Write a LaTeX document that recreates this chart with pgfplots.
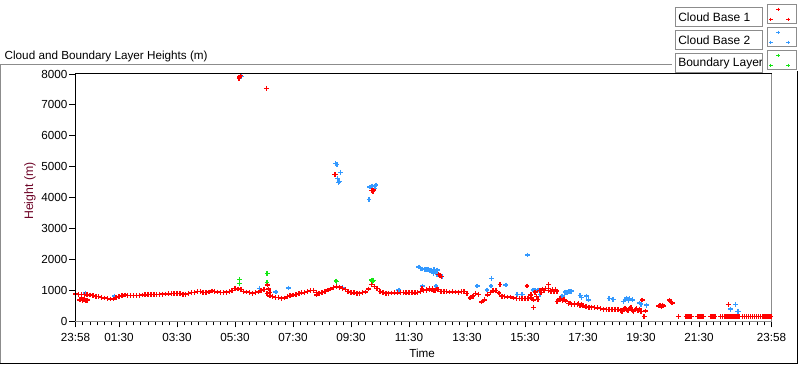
\documentclass[border=0pt]{standalone}
\usepackage{pgfplots}
\pgfplotsset{compat=1.18}
\usepackage{fontspec}
\setmainfont{Liberation Sans}
\definecolor{cbred}{RGB}{255,0,0}
\definecolor{cbblue}{RGB}{51,153,255}
\definecolor{blgreen}{RGB}{20,230,20}
\definecolor{framegray}{RGB}{140,140,140}
\definecolor{labred}{RGB}{110,5,40}
\newcommand\legbox[1]{{\setlength\fboxsep{0pt}\setlength\fboxrule{1bp}\fcolorbox{framegray}{white}{\parbox[c][18bp][c]{86bp}{\makebox[86bp][l]{\hspace*{2.5bp}\fontsize{12bp}{14bp}\selectfont #1}}}}}
\begin{document}
\fontsize{11.7bp}{14bp}\selectfont
\begin{tikzpicture}
\useasboundingbox (0,0) rectangle (800bp,365bp);
\begin{axis}[
  at={(75.5bp,43.5bp)}, anchor=south west,
  width=696bp, height=247.5bp, scale only axis,
  xmin=0, xmax=24, ymin=0, ymax=8000,
  axis line style={framegray, line width=1bp},
  tick pos=left, tick align=outside,
  major tick length=6bp, minor tick length=4bp,
  every tick/.style={black, line width=0.9bp},
  xtick={0,1.5,3.5,5.5,7.5,9.5,11.5,13.5,15.5,17.5,19.5,21.5,24},
  xticklabels={23:58,01:30,03:30,05:30,07:30,09:30,11:30,13:30,15:30,17:30,19:30,21:30,23:58},
  minor xtick={0,0.25,...,24},
  ytick={0,1000,...,8000},
  scaled y ticks=false,
  /pgf/number format/assume math mode=true,
  /pgf/number format/1000 sep={},
  yticklabel style={inner sep=2bp},
  xticklabel style={inner sep=2bp, yshift=-3.5bp},
  xlabel={Time},
  ylabel={\color{labred}\fontsize{12.3bp}{14bp}\selectfont Height (m)},
  xlabel style={at={(axis description cs:0.498,-0.127)}, anchor=center},
  ylabel style={at={(axis description cs:-0.0654,0.527)}, anchor=center},
  legend plot pos=right,
  legend cell align=left,
  legend style={at={(axis description cs:1.0366,1.282)}, anchor=north east,
    draw=none, fill=none, inner sep=0pt, row sep=3bp, column sep=4bp,
    nodes={inner sep=0pt}},
  legend image code/.code={
    \draw[framegray, fill=white, line width=1bp, solid] (0bp,-9.5bp) rectangle (29bp,9.5bp);
    \draw[#1, mark size=1.8bp, mark options={line width=0.9bp}] plot coordinates {(11bp,5bp) (3.5bp,-5bp) (21bp,-5bp)};
  },
  reverse legend,
  clip=true,
]
% Boundary Layer
\addplot[only marks, mark=+, blgreen, mark size=2.4bp, mark options={line width=1.4bp}] coordinates {
(5.66,1364) (5.66,1235) (6.61,1557) (6.60,1267) (8.98,1309) (9.00,1290) (10.22,1341) (10.28,1320) (10.25,1290)
};
\addlegendentry{\legbox{Boundary Layer}}
% Cloud Base 2
\addplot[only marks, mark=+, cbblue, mark size=2.4bp, mark options={line width=1.4bp}] coordinates {
(0.35,920) (1.35,824) (5.73,7912) (5.70,7960) (6.35,1073) (6.91,953) (7.34,1083)
(8.97,5110) (9.02,5070) (9.14,4820) (9.04,4628) (9.09,4531) (9.07,4490) (9.21,1105)
(10.12,3950) (10.15,4350) (10.20,4300) (10.22,4380) (10.33,4300) (10.36,4410) (11.15,1018)
(11.84,1760) (11.90,1720) (11.95,1700) (12.05,1690) (12.12,1680) (12.15,1690) (12.22,1660)
(12.26,1660) (12.33,1600) (12.36,1690) (12.40,1620) (12.47,1660) (12.34,1560) (12.47,1530)
(12.64,1450) (11.97,1147) (12.43,1147) (13.85,1147) (14.35,1396) (14.33,1147) (14.19,1018)
(14.84,1180) (15.58,2150) (15.23,880) (15.40,880) (15.78,1018) (15.85,1000) (15.95,1018)
(16.02,880) (16.88,950) (16.95,930) (17.02,960) (17.09,980) (16.78,824) (17.40,840)
(17.45,780) (17.62,820) (17.68,700) (18.40,740) (18.54,720) (18.89,640) (18.95,700)
(19.00,760) (19.03,730) (19.07,680) (19.10,740) (19.20,700) (19.44,600) (19.50,560)
(19.68,530) (22.51,540) (22.58,400) (22.76,555) (22.82,330) (22.85,330)
};
\addlegendentry{\legbox{Cloud Base 2}}
% Cloud Base 1
\addplot[only marks, mark=+, cbred, mark size=2.4bp, mark options={line width=1.4bp}] coordinates {
(0.0,889) (0.1,880) (0.2,875) (0.3,870) (0.4,860) (0.5,855) (0.6,835) (0.7,815) (0.8,800) (0.9,785)
(1.0,760) (1.1,745) (1.2,730) (1.3,728) (1.4,770) (1.5,800) (1.6,830) (1.7,855) (1.8,850) (1.9,840)
(2.0,832) (2.1,840) (2.2,850) (2.3,856) (2.4,862) (2.5,870) (2.6,875) (2.7,878) (2.8,872) (2.9,880)
(3.0,885) (3.1,890) (3.2,895) (3.3,900) (3.4,905) (3.5,910) (3.6,900) (3.7,885) (3.8,878) (3.9,905)
(4.0,930) (4.1,945) (4.2,960) (4.3,964) (4.4,945) (4.5,932) (4.6,955) (4.7,985) (4.8,975) (4.9,955)
(5.0,940) (5.1,932) (5.2,948) (5.3,962) (5.4,1010) (5.5,1073) (5.6,1050) (5.7,1035) (5.8,975) (5.9,955)
(6.0,930) (6.1,912) (6.2,930) (6.3,955) (6.4,1000) (6.5,1040) (6.6,910) (6.7,830) (6.8,800) (6.9,785)
(7.0,775) (7.1,755) (7.2,760) (7.3,800) (7.4,830) (7.5,858) (7.6,880) (7.7,905) (7.8,925) (7.9,945)
(8.0,965) (8.1,1000) (8.2,1010) (8.3,930) (8.4,905) (8.5,935) (8.6,975) (8.7,1015) (8.8,1050) (8.9,1090)
(9.0,1120) (9.1,1110) (9.2,1075) (9.3,1030) (9.4,960) (9.5,930) (9.6,925) (9.7,915) (9.8,910) (9.9,930)
(10.0,955) (10.1,1050) (10.2,1200) (10.3,1130) (10.4,1070) (10.5,965) (10.6,935) (10.7,915) (10.8,910) (10.9,920)
(11.0,935) (11.1,925) (11.2,932) (11.3,930) (11.4,925) (11.5,935) (11.6,930) (11.7,925) (11.8,935) (11.9,960)
(12.0,1000) (12.1,1040) (12.2,1020) (12.3,1060) (12.4,1000) (12.5,1030) (12.6,970) (12.7,960) (12.8,965) (12.9,955)
(13.0,960) (13.1,955) (13.2,950) (13.3,965) (13.4,960) (13.5,900) (13.6,760) (13.7,820) (13.8,900) (13.9,880)
(14.0,630) (14.1,700) (14.2,860) (14.3,930) (14.4,990) (14.5,1000) (14.6,920) (14.7,820) (14.8,800) (14.9,795)
(15.0,790) (15.1,760) (15.2,740) (15.3,745) (15.4,740) (15.5,742) (15.6,738) (15.7,760) (15.8,700) (15.9,800)
(16.0,1000) (16.1,1050) (16.2,1060) (16.3,1000) (16.4,980) (16.5,960) (16.6,980) (16.7,700) (16.8,680) (16.9,660)
(17.0,580) (17.1,560) (17.2,555) (17.3,540) (17.4,530) (17.5,500) (17.6,470) (17.7,460) (17.8,455) (17.9,450)
(18.0,440) (18.1,420) (18.2,400) (18.3,395) (18.4,392) (18.5,390) (18.6,395) (18.7,380) (18.8,360) (18.9,400)
(19.0,370) (19.1,420) (19.2,360) (19.3,380) (19.4,350) (19.5,330)
(0.15,700) (0.2,760) (0.25,680) (0.3,730) (0.35,660) (0.4,690)
(6.62,1180) (6.66,1050) (6.70,930) (8.32,856)
(12.51,1525) (12.57,1490) (12.63,1450)
(11.95,1060) (12.1,1000) (12.2,1070) (12.35,990) (12.45,1050)
(14.64,1202) (15.57,1147) (15.79,459)
(15.7,860) (15.85,950) (15.95,720) (16.05,930) (16.15,1000) (16.31,1202) (16.3,1060) (16.45,1030) (16.55,1040)
(16.6,640) (16.7,750) (16.85,700)
(17.05,600) (17.2,590) (17.35,570) (17.45,560) (17.6,490) (17.8,470) (18.0,455)
(18.85,330) (18.95,430) (19.05,350) (19.15,440) (19.25,330) (19.35,420) (19.45,400)
(19.54,695) (19.65,340) (19.61,155)
(20.10,500) (20.15,520) (20.20,480) (20.25,530) (20.27,500)
(20.48,690) (20.52,650) (20.55,610) (20.58,600)
(20.79,155) (22.51,555)
(5.64,7860) (5.66,7900) (5.68,7950) (6.58,7537) (8.97,4757) (8.93,4760) (10.26,4195) (10.28,4250) (10.22,4230)
(21.05,155) (21.10,155) (21.15,155) (21.20,155) (21.25,155)
(21.45,155) (21.50,155) (21.55,155) (21.60,155) (21.65,155)
(21.90,155) (21.95,155) (22.00,155) (22.05,155)
(22.25,155) (22.32,155) (22.39,155) (22.46,155) (22.53,155) (22.60,155) (22.67,155) (22.74,155) (22.81,155) (22.88,155)
(23.00,155) (23.07,155) (23.14,155) (23.21,155) (23.28,155) (23.35,155) (23.42,155) (23.49,155) (23.56,155) (23.63,155)
(23.70,155) (23.77,155) (23.84,155) (23.91,155) (23.98,155)
};
\addlegendentry{\legbox{Cloud Base 1}}
\end{axis}
% plot frame (dark top and left)
\draw[black, line width=1bp] (75.5bp,43.5bp) -- (75.5bp,291bp) -- (772bp,291bp);
% outer panel frame
\draw[framegray, line width=1bp] (0.5bp,1.5bp) -- (0.5bp,300bp) -- (672bp,300bp);
\draw[black, line width=1bp] (0.5bp,1.5bp) -- (797.5bp,1.5bp) -- (797.5bp,294bp);
\node[anchor=base west, inner sep=0pt] at (4.5bp,305bp) {Cloud and Boundary Layer Heights (m)};
\end{tikzpicture}
\end{document}
